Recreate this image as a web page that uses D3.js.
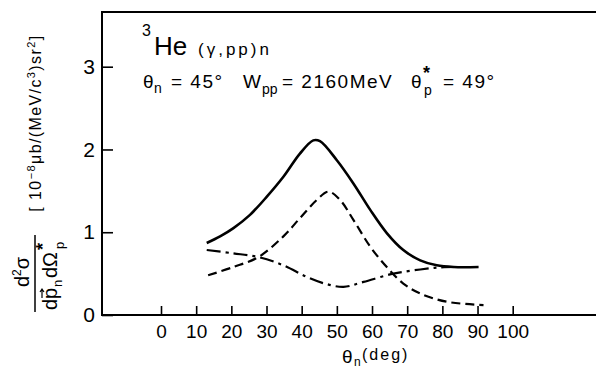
<!DOCTYPE html>
<html>
<head>
<meta charset="utf-8">
<script src="https://cdn.jsdelivr.net/npm/d3@7"></script>
<style>
  body { margin: 0; background: #fff; }
  svg { display: block; font-family: "Liberation Sans", Arial, sans-serif; }
</style>
</head>
<body>
<div id="chart"></div>
<script>
// values (theta_n in deg, cross section in 10^-8 ub/...)
const xTicks = [0, 10, 20, 30, 40, 50, 60, 70, 80, 90, 100];
const yTicks = [0, 1, 2, 3];

const solidX = [13.0, 16.8, 20.6, 25.3, 30.1, 34.8, 39.5, 43.3, 45.2, 50.0, 54.7, 59.5, 64.2, 68.9, 73.7, 78.4, 83.2, 90.3];
const solidY = [0.87, 0.95, 1.05, 1.21, 1.43, 1.67, 1.95, 2.11, 2.10, 1.87, 1.59, 1.27, 0.99, 0.785, 0.66, 0.60, 0.58, 0.58];

const dashX = [13.4, 20.6, 27.7, 34.8, 39.5, 44.3, 47.6, 50.9, 54.7, 59.5, 64.2, 68.9, 73.7, 81.3, 91.7];
const dashY = [0.48, 0.58, 0.70, 0.95, 1.17, 1.39, 1.49, 1.39, 1.15, 0.825, 0.58, 0.38, 0.26, 0.16, 0.12];

const dotX = [13.0, 20.6, 27.7, 34.8, 41.4, 46.5, 51.9, 57.6, 66.1, 73.7, 79.4, 85.0];
const dotY = [0.785, 0.745, 0.70, 0.60, 0.46, 0.38, 0.34, 0.40, 0.50, 0.55, 0.575, 0.58];

const W = 596, H = 370;
const svg = d3.select("#chart").append("svg")
  .attr("width", W).attr("height", H);

const x = d3.scaleLinear().domain([0, 100]).range([161, 512.7]);
const y = d3.scaleLinear().domain([0, 3]).range([315, 66.7]);

const frameLeft = 102, frameTop = 12, frameBottom = 315;

// frame: left, top and bottom lines
svg.append("path")
  .attr("d", `M${W},${frameTop}H${frameLeft}V${frameBottom}H${W}`)
  .attr("fill", "none").attr("stroke", "#000").attr("stroke-width", 2);

// y axis
const gy = svg.append("g")
  .attr("transform", `translate(${frameLeft},0)`)
  .call(d3.axisLeft(y).tickValues(yTicks).tickSize(-11).tickPadding(7).tickFormat(d3.format("d")));
gy.select(".domain").remove();
gy.selectAll("line").attr("stroke-width", 1.6);
gy.selectAll("text").attr("font-size", 21).attr("fill", "#000").attr("font-family", "Liberation Sans, Arial, sans-serif");

// x axis
const gx = svg.append("g")
  .attr("transform", `translate(0,${frameBottom})`)
  .call(d3.axisBottom(x).tickValues(xTicks).tickSize(-9).tickPadding(10).tickFormat(d3.format("d")));
gx.select(".domain").remove();
gx.selectAll("line").attr("stroke-width", 1.6);
gx.selectAll("text").attr("font-size", 19).attr("fill", "#000").attr("font-family", "Liberation Sans, Arial, sans-serif");

// x axis title
svg.append("text").attr("x", 342).attr("y", 363).attr("font-size", 19).text("θ");
svg.append("text").attr("x", 354).attr("y", 366).attr("font-size", 12).text("n");
svg.append("text").attr("x", 362).attr("y", 360).attr("font-size", 16).attr("letter-spacing", 2).text("(deg)");

// y axis title: fraction (rotated; local x runs upward)
const fr = svg.append("g").attr("transform", "translate(0,272) rotate(-90)");
fr.append("text").attr("x", 0).attr("y", 29).attr("text-anchor", "middle").attr("font-size", 20)
  .call(t => {
    t.append("tspan").text("d");
    t.append("tspan").attr("font-size", 12).attr("dy", -8).text("2");
    t.append("tspan").attr("dy", 8).text("σ");
  });
fr.append("line").attr("x1", -40).attr("x2", 37).attr("y1", 35).attr("y2", 35)
  .attr("stroke", "#000").attr("stroke-width", 1.5);
fr.append("text").attr("x", -38).attr("y", 57).attr("font-size", 20).text("dp");
fr.append("path").attr("d", "M-26,42H-17M-20,40L-17,42L-20,44")
  .attr("fill", "none").attr("stroke", "#000").attr("stroke-width", 1.2);
fr.append("text").attr("x", -15).attr("y", 62).attr("font-size", 13).text("n");
fr.append("text").attr("x", -6).attr("y", 57).attr("font-size", 20).text("dΩ");
fr.append("text").attr("x", 22).attr("y", 49).attr("font-size", 18).attr("font-weight", "bold").text("*");
fr.append("text").attr("x", 23).attr("y", 64).attr("font-size", 13).text("p");

// y axis title: units
const un = svg.append("g").attr("transform", "translate(0,123) rotate(-90)");
un.append("text").attr("x", 0).attr("y", 41).attr("text-anchor", "middle").attr("font-size", 16)
  .attr("letter-spacing", 1.4)
  .call(t => {
    t.append("tspan").text("[ 10");
    t.append("tspan").attr("font-size", 11).attr("dy", -6).text("−8");
    t.append("tspan").attr("dy", 6).text("μb/(MeV/c");
    t.append("tspan").attr("font-size", 11).attr("dy", -6).text("3");
    t.append("tspan").attr("dy", 6).text(")sr");
    t.append("tspan").attr("font-size", 11).attr("dy", -6).text("2");
    t.append("tspan").attr("dy", 6).text("]");
  });

// title
svg.append("text").attr("x", 142).attr("y", 36).attr("font-size", 16).text("3");
svg.append("text").attr("x", 154).attr("y", 55).attr("font-size", 26).text("He");
svg.append("text").attr("x", 198).attr("y", 55).attr("font-size", 17).attr("letter-spacing", 3).text("(γ,pp)n");

// second title line, pieces placed as in the picture
const line2 = [
  {s: "θ", x: 143, dy: 0, size: 19},
  {s: "n", x: 154, dy: 5, size: 14},
  {s: "= 45°", x: 171, dy: 0, size: 19, ls: 1.5},
  {s: "W", x: 243, dy: 0, size: 19},
  {s: "pp", x: 262, dy: 6, size: 14},
  {s: "= 2160MeV", x: 282, dy: 0, size: 19, ls: 1.5},
  {s: "θ", x: 411, dy: 0, size: 19},
  {s: "*", x: 423, dy: -9, size: 18, bold: true},
  {s: "p", x: 424, dy: 7, size: 14},
  {s: "= 49°", x: 443, dy: 0, size: 19, ls: 1.5}
];
line2.forEach(p => {
  const t = svg.append("text").attr("x", p.x).attr("y", 88 + p.dy)
    .attr("font-size", p.size).text(p.s);
  if (p.ls) t.attr("letter-spacing", p.ls);
  if (p.bold) t.attr("font-weight", "bold");
});

// curves
const line = d3.line()
  .x(d => x(d[0])).y(d => y(d[1]))
  .curve(d3.curveCatmullRom.alpha(0.5));

function drawCurve(xs, ys, dash, width) {
  svg.append("path")
    .datum(d3.zip(xs, ys))
    .attr("fill", "none")
    .attr("stroke", "#000")
    .attr("stroke-width", width)
    .attr("stroke-dasharray", dash)
    .attr("d", line);
}
drawCurve(solidX, solidY, null, 2.6);
drawCurve(dashX, dashY, "9,5", 2.2);
drawCurve(dotX, dotY, "14,5,3,5", 2.2);
</script>
</body>
</html>
